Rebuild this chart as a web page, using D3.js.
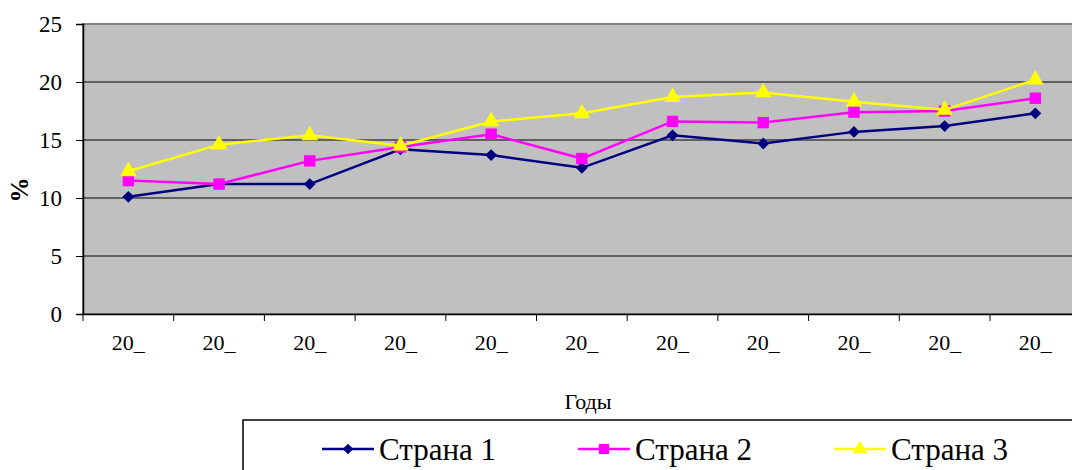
<!DOCTYPE html>
<html>
<head>
<meta charset="utf-8">
<script src="https://cdn.jsdelivr.net/npm/d3@7"></script>
<style>
    body { margin: 0; background: #fff; }
    svg { display: block; }
    text { font-family: "Liberation Serif", "Times New Roman", serif; fill: #000; }
</style>
</head>
<body>
<div id="chart"></div>
<script>
// DATA
const years = ["20_", "20_", "20_", "20_", "20_", "20_", "20_", "20_", "20_", "20_", "20_"];
const country1 = [10.1, 11.2, 11.2, 14.2, 13.7, 12.6, 15.4, 14.7, 15.7, 16.2, 17.3];
const country2 = [11.5, 11.2, 13.2, 14.4, 15.5, 13.4, 16.6, 16.5, 17.4, 17.5, 18.6];
const country3 = [12.3, 14.6, 15.4, 14.5, 16.6, 17.3, 18.7, 19.1, 18.3, 17.6, 20.2];
const yTicks = [0, 5, 10, 15, 20, 25];
const seriesNames = ["Страна 1", "Страна 2", "Страна 3"];

// VARIABLES
const width = 1072;
const height = 470;
const margin = {top: 24, left: 83, bottom: 156};
const plotW = 11 * 90.7;
const plotH = height - margin.top - margin.bottom;
const serif = "'Liberation Serif', 'Times New Roman', serif";

const series = [
    {name: seriesNames[0], values: country1, color: "#000080", symbol: d3.symbolDiamond2, size: 90},
    {name: seriesNames[1], values: country2, color: "#ff00ff", symbol: d3.symbolSquare, size: 130},
    {name: seriesNames[2], values: country3, color: "#ffff00", symbol: d3.symbolTriangle, size: 120}
];

const svg = d3.select("#chart")
    .append("svg")
    .attr("width", width)
    .attr("height", height);

const xScale = d3.scaleBand()
    .domain(d3.range(years.length))
    .range([margin.left, margin.left + plotW]);

const yScale = d3.scaleLinear()
    .domain([0, 25])
    .range([margin.top + plotH, margin.top]);

// plot area
svg.append("rect")
    .attr("x", margin.left)
    .attr("y", margin.top)
    .attr("width", plotW)
    .attr("height", plotH)
    .attr("fill", "#c0c0c0")
    .attr("stroke", "#808080")
    .attr("stroke-width", 2);

// gridlines
svg.append("g")
    .selectAll("line")
    .data(yTicks.filter(d => d > 0 && d < 25))
    .join("line")
    .attr("x1", margin.left)
    .attr("x2", margin.left + plotW)
    .attr("y1", d => yScale(d))
    .attr("y2", d => yScale(d))
    .attr("stroke", "#000")
    .attr("stroke-width", 1);

// y axis
const yAxis = svg.append("g")
    .attr("transform", `translate(${margin.left}, 0)`)
    .call(d3.axisLeft(yScale).tickValues(yTicks).tickSize(7).tickPadding(14));
yAxis.attr("font-family", serif);
yAxis.select(".domain").attr("stroke", "#000").attr("stroke-width", 1.5);
yAxis.selectAll("text")
    .attr("font-size", 23)
    .style("font-family", serif);

// x axis
const xAxis = svg.append("g")
    .attr("transform", `translate(0, ${margin.top + plotH})`)
    .call(d3.axisBottom(xScale).tickSize(0).tickPadding(20).tickFormat(i => years[i]));
xAxis.attr("font-family", serif);
xAxis.select(".domain").attr("stroke", "#000").attr("stroke-width", 1.5);
xAxis.selectAll("text")
    .attr("font-size", 22)
    .style("font-family", serif);

// x ticks on band boundaries
xAxis.append("g")
    .selectAll("line")
    .data(d3.range(years.length + 1))
    .join("line")
    .attr("x1", i => margin.left + i * xScale.step())
    .attr("x2", i => margin.left + i * xScale.step())
    .attr("y1", 0)
    .attr("y2", 7)
    .attr("stroke", "#000");

// axis titles
svg.append("text")
    .attr("transform", `translate(28, 190) rotate(-90)`)
    .attr("text-anchor", "middle")
    .attr("font-size", 25)
    .attr("font-weight", "bold")
    .text("%");

svg.append("text")
    .attr("x", 588)
    .attr("y", 409)
    .attr("text-anchor", "middle")
    .attr("font-size", 22)
    .text("Годы");

// lines
const line = d3.line()
    .x((d, i) => xScale(i) + xScale.bandwidth() / 2)
    .y(d => yScale(d));

const seriesG = svg.append("g")
    .selectAll("g")
    .data(series)
    .join("g");

seriesG.append("path")
    .attr("d", d => line(d.values))
    .attr("fill", "none")
    .attr("stroke", d => d.color)
    .attr("stroke-width", 2.5);

seriesG.each(function(s) {
    d3.select(this).selectAll(".marker")
        .data(s.values)
        .join("path")
        .classed("marker", true)
        .attr("transform", (d, i) => `translate(${xScale(i) + xScale.bandwidth() / 2}, ${yScale(d)})`)
        .attr("d", d3.symbol(s.symbol, s.size))
        .attr("fill", s.color);
});

// legend
const legend = svg.append("g");
legend.append("rect")
    .attr("x", 243)
    .attr("y", 420)
    .attr("width", 900)
    .attr("height", 100)
    .attr("fill", "#fff")
    .attr("stroke", "#000")
    .attr("stroke-width", 1.5);

const legendX = [322, 578, 834];
const items = legend.selectAll(".item")
    .data(series)
    .join("g")
    .classed("item", true)
    .attr("transform", (d, i) => `translate(${legendX[i]}, 449)`);

items.append("line")
    .attr("x1", 0)
    .attr("x2", 52)
    .attr("stroke", d => d.color)
    .attr("stroke-width", 2.5);

items.append("path")
    .attr("transform", "translate(26, 0)")
    .attr("d", d => d3.symbol(d.symbol, d.size * 0.8)())
    .attr("fill", d => d.color);

items.append("text")
    .attr("x", 57)
    .attr("y", 11)
    .attr("font-size", 31)
    .text(d => d.name);
</script>
</body>
</html>
